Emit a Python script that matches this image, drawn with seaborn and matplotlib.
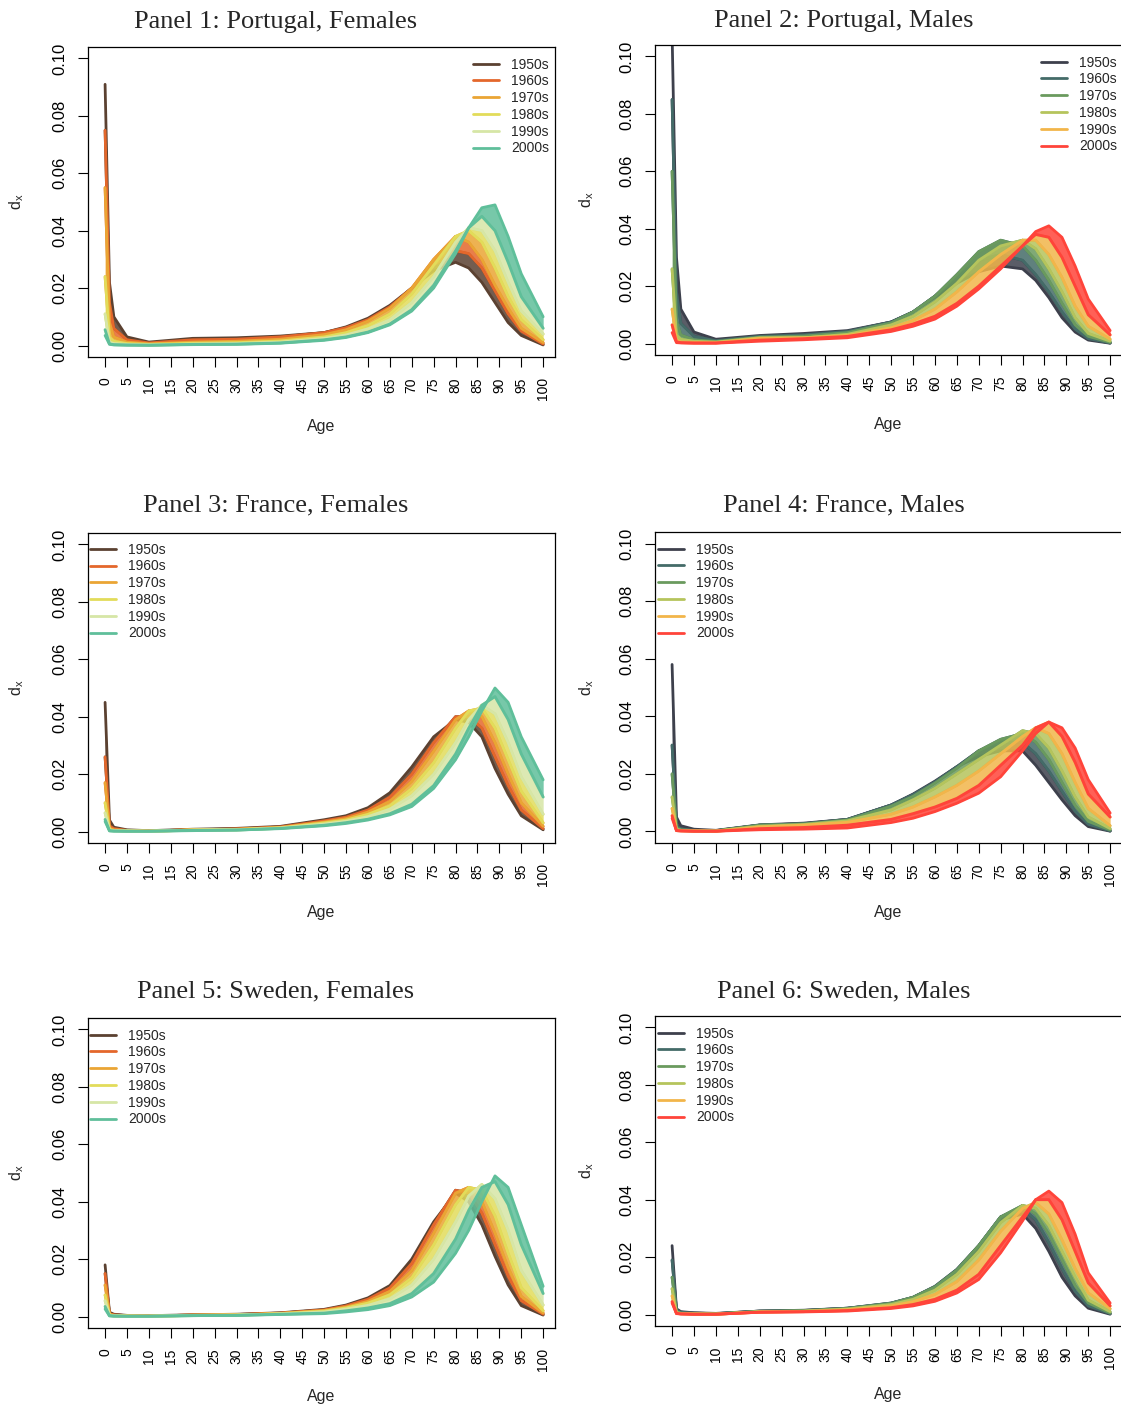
import numpy as np
import pandas as pd
import matplotlib
matplotlib.use("Agg")
import matplotlib.pyplot as plt
import seaborn as sns
from matplotlib.lines import Line2D

# ---------------- data ----------------
ages = [0, 1, 2, 5, 10, 20, 30, 40, 50, 55, 60, 65, 70, 75, 80, 83, 86, 89, 92, 95, 100]
boundary_years = [1950, 1960, 1970, 1980, 1990, 2000, 2009]
decades = ["1950s", "1960s", "1970s", "1980s", "1990s", "2000s"]

female_colors = ["#5b4131", "#e4672b", "#eaa534", "#e2dc5a", "#d6e6a6", "#5fbf9a"]
male_colors = ["#3d404c", "#446b68", "#6a9a5e", "#b5c45c", "#f2b54a", "#ff443a"]

portugal_f = [
    [0.091, 0.022, 0.010, 0.003, 0.0012, 0.0025, 0.0027, 0.0033, 0.0045, 0.0065, 0.0095, 0.014, 0.020, 0.026, 0.029, 0.027, 0.022, 0.015, 0.008, 0.0035, 0.0002],
    [0.075, 0.015, 0.006, 0.002, 0.0009, 0.0020, 0.0022, 0.0030, 0.0045, 0.0062, 0.0090, 0.0135, 0.020, 0.028, 0.033, 0.032, 0.027, 0.019, 0.011, 0.005, 0.0005],
    [0.055, 0.008, 0.003, 0.0012, 0.0006, 0.0012, 0.0015, 0.0022, 0.0038, 0.0055, 0.0085, 0.013, 0.020, 0.030, 0.038, 0.036, 0.030, 0.021, 0.013, 0.006, 0.001],
    [0.024, 0.003, 0.0015, 0.0007, 0.0004, 0.0008, 0.0010, 0.0016, 0.0030, 0.0045, 0.0070, 0.011, 0.018, 0.028, 0.038, 0.040, 0.036, 0.027, 0.017, 0.009, 0.002],
    [0.011, 0.0012, 0.0007, 0.0004, 0.0002, 0.0005, 0.0007, 0.0012, 0.0025, 0.0037, 0.0058, 0.009, 0.015, 0.024, 0.036, 0.041, 0.040, 0.033, 0.022, 0.012, 0.004],
    [0.0055, 0.0006, 0.0003, 0.0002, 0.0001, 0.0004, 0.0005, 0.0009, 0.0020, 0.0030, 0.0047, 0.0075, 0.0125, 0.021, 0.033, 0.041, 0.045, 0.040, 0.029, 0.017, 0.006],
    [0.0035, 0.0004, 0.0002, 0.0001, 0.0001, 0.0003, 0.0004, 0.0008, 0.0018, 0.0028, 0.0045, 0.0072, 0.012, 0.020, 0.032, 0.041, 0.048, 0.049, 0.038, 0.025, 0.010],
]

portugal_m = [
    [0.108, 0.030, 0.012, 0.004, 0.0015, 0.0028, 0.0035, 0.0045, 0.0075, 0.011, 0.016, 0.021, 0.025, 0.027, 0.026, 0.022, 0.016, 0.009, 0.004, 0.0012, 0.0001],
    [0.085, 0.018, 0.007, 0.0025, 0.0010, 0.0025, 0.0030, 0.0042, 0.0075, 0.011, 0.0165, 0.023, 0.029, 0.031, 0.029, 0.024, 0.018, 0.011, 0.005, 0.0017, 0.0002],
    [0.060, 0.008, 0.003, 0.0013, 0.0007, 0.0022, 0.0026, 0.0038, 0.0072, 0.011, 0.0165, 0.024, 0.032, 0.036, 0.034, 0.029, 0.022, 0.014, 0.0065, 0.0025, 0.0004],
    [0.026, 0.003, 0.0015, 0.0008, 0.0005, 0.0020, 0.0020, 0.0032, 0.0065, 0.0095, 0.0145, 0.021, 0.029, 0.034, 0.036, 0.033, 0.026, 0.018, 0.009, 0.0035, 0.0008],
    [0.012, 0.0012, 0.0006, 0.0004, 0.0003, 0.0018, 0.0020, 0.0028, 0.0055, 0.0080, 0.012, 0.018, 0.025, 0.031, 0.036, 0.036, 0.031, 0.023, 0.013, 0.006, 0.0015],
    [0.0065, 0.0006, 0.0003, 0.0002, 0.0002, 0.0012, 0.0017, 0.0025, 0.0048, 0.0068, 0.0095, 0.014, 0.020, 0.027, 0.034, 0.038, 0.037, 0.030, 0.020, 0.010, 0.003],
    [0.0038, 0.0003, 0.0002, 0.0001, 0.0001, 0.0008, 0.0013, 0.0020, 0.0042, 0.0060, 0.0085, 0.013, 0.019, 0.026, 0.034, 0.039, 0.041, 0.037, 0.027, 0.0155, 0.0045],
]

france_f = [
    [0.045, 0.004, 0.0015, 0.0006, 0.0003, 0.0008, 0.0011, 0.0018, 0.0041, 0.0055, 0.0083, 0.0135, 0.0225, 0.033, 0.039, 0.038, 0.033, 0.022, 0.013, 0.0055, 0.0006],
    [0.026, 0.002, 0.0010, 0.0004, 0.0002, 0.0006, 0.0009, 0.0016, 0.0037, 0.0050, 0.0075, 0.012, 0.020, 0.031, 0.040, 0.040, 0.036, 0.026, 0.016, 0.0075, 0.001],
    [0.017, 0.0012, 0.0006, 0.0003, 0.0002, 0.0006, 0.0008, 0.0014, 0.0033, 0.0045, 0.0068, 0.0105, 0.0175, 0.028, 0.039, 0.042, 0.040, 0.031, 0.020, 0.010, 0.0018],
    [0.010, 0.0007, 0.0004, 0.0002, 0.0001, 0.0005, 0.0007, 0.0013, 0.0030, 0.0040, 0.0060, 0.009, 0.015, 0.024, 0.036, 0.042, 0.043, 0.036, 0.025, 0.014, 0.003],
    [0.0065, 0.0005, 0.0003, 0.0002, 0.0001, 0.0005, 0.0006, 0.0012, 0.0026, 0.0036, 0.0052, 0.0078, 0.0125, 0.020, 0.031, 0.039, 0.044, 0.041, 0.031, 0.019, 0.006],
    [0.0042, 0.0003, 0.0002, 0.0001, 0.0001, 0.0004, 0.0005, 0.0011, 0.0022, 0.0031, 0.0043, 0.0062, 0.0095, 0.016, 0.027, 0.036, 0.044, 0.047, 0.039, 0.027, 0.012],
    [0.0035, 0.0002, 0.0001, 0.0001, 0.0001, 0.0003, 0.0005, 0.0010, 0.0020, 0.0028, 0.0040, 0.0058, 0.0087, 0.015, 0.025, 0.033, 0.042, 0.050, 0.045, 0.033, 0.018],
]

france_m = [
    [0.058, 0.005, 0.002, 0.0008, 0.0004, 0.0023, 0.0029, 0.0042, 0.0092, 0.013, 0.0175, 0.0225, 0.026, 0.028, 0.028, 0.023, 0.017, 0.011, 0.0055, 0.0017, 0.0001],
    [0.030, 0.002, 0.0009, 0.0004, 0.0003, 0.0022, 0.0027, 0.0042, 0.0092, 0.0128, 0.0172, 0.0225, 0.028, 0.031, 0.031, 0.027, 0.021, 0.014, 0.007, 0.0025, 0.0002],
    [0.020, 0.0012, 0.0006, 0.0003, 0.0002, 0.0022, 0.0026, 0.0040, 0.0088, 0.0122, 0.0168, 0.022, 0.028, 0.032, 0.034, 0.031, 0.025, 0.017, 0.009, 0.0035, 0.0005],
    [0.012, 0.0008, 0.0004, 0.0002, 0.0002, 0.0018, 0.0024, 0.0037, 0.0075, 0.011, 0.015, 0.020, 0.025, 0.030, 0.035, 0.034, 0.029, 0.021, 0.012, 0.005, 0.001],
    [0.008, 0.0005, 0.0003, 0.0002, 0.0001, 0.0016, 0.0022, 0.0032, 0.0060, 0.0085, 0.012, 0.016, 0.021, 0.027, 0.033, 0.036, 0.034, 0.027, 0.017, 0.008, 0.002],
    [0.0055, 0.0003, 0.0002, 0.0001, 0.0001, 0.0010, 0.0014, 0.0022, 0.0042, 0.0062, 0.0085, 0.0115, 0.016, 0.023, 0.030, 0.036, 0.038, 0.033, 0.024, 0.013, 0.005],
    [0.0046, 0.0003, 0.0002, 0.0001, 0.0001, 0.0006, 0.0008, 0.0012, 0.0031, 0.0046, 0.0069, 0.0098, 0.0133, 0.019, 0.028, 0.034, 0.038, 0.036, 0.029, 0.018, 0.0064],
]

sweden_f = [
    [0.018, 0.0015, 0.0008, 0.0004, 0.0003, 0.0006, 0.0008, 0.0013, 0.0025, 0.0040, 0.0065, 0.0108, 0.020, 0.033, 0.043, 0.040, 0.032, 0.021, 0.011, 0.0038, 0.0005],
    [0.015, 0.0010, 0.0006, 0.0003, 0.0002, 0.0005, 0.0007, 0.0012, 0.0023, 0.0037, 0.0060, 0.010, 0.0185, 0.032, 0.044, 0.043, 0.036, 0.025, 0.014, 0.0055, 0.0008],
    [0.011, 0.0008, 0.0004, 0.0002, 0.0002, 0.0005, 0.0006, 0.0011, 0.0021, 0.0033, 0.0053, 0.0088, 0.016, 0.029, 0.043, 0.045, 0.040, 0.029, 0.017, 0.007, 0.0012],
    [0.0075, 0.0006, 0.0003, 0.0002, 0.0001, 0.0004, 0.0005, 0.0010, 0.0019, 0.0030, 0.0047, 0.0076, 0.0135, 0.025, 0.039, 0.045, 0.044, 0.035, 0.022, 0.010, 0.002],
    [0.0055, 0.0004, 0.0002, 0.0001, 0.0001, 0.0004, 0.0005, 0.0009, 0.0016, 0.0026, 0.0039, 0.0062, 0.011, 0.020, 0.033, 0.042, 0.046, 0.041, 0.030, 0.016, 0.004],
    [0.0035, 0.0003, 0.0002, 0.0001, 0.0001, 0.0003, 0.0004, 0.0008, 0.0012, 0.0020, 0.0030, 0.0045, 0.008, 0.015, 0.027, 0.037, 0.045, 0.047, 0.039, 0.025, 0.008],
    [0.0026, 0.0002, 0.0001, 0.0001, 0.0001, 0.0003, 0.0004, 0.0007, 0.0010, 0.0016, 0.0024, 0.0038, 0.0068, 0.012, 0.022, 0.030, 0.040, 0.049, 0.045, 0.032, 0.0105],
]

sweden_m = [
    [0.024, 0.002, 0.0010, 0.0006, 0.0004, 0.0012, 0.0015, 0.0022, 0.0037, 0.0057, 0.0095, 0.015, 0.023, 0.033, 0.035, 0.030, 0.022, 0.013, 0.0065, 0.0022, 0.0001],
    [0.019, 0.0015, 0.0008, 0.0005, 0.0003, 0.0012, 0.0014, 0.0022, 0.0040, 0.0060, 0.0098, 0.0157, 0.024, 0.034, 0.037, 0.033, 0.025, 0.016, 0.008, 0.003, 0.0003],
    [0.013, 0.0010, 0.0005, 0.0003, 0.0002, 0.0011, 0.0013, 0.0021, 0.0039, 0.0060, 0.0096, 0.0155, 0.024, 0.034, 0.038, 0.035, 0.028, 0.019, 0.010, 0.004, 0.0005],
    [0.009, 0.0007, 0.0004, 0.0002, 0.0002, 0.0010, 0.0012, 0.0019, 0.0035, 0.0053, 0.0085, 0.014, 0.022, 0.032, 0.038, 0.037, 0.031, 0.022, 0.013, 0.005, 0.001],
    [0.0065, 0.0005, 0.0003, 0.0002, 0.0001, 0.0009, 0.0011, 0.0017, 0.0030, 0.0045, 0.0070, 0.0115, 0.019, 0.029, 0.037, 0.039, 0.035, 0.026, 0.016, 0.0075, 0.002],
    [0.0045, 0.0004, 0.0002, 0.0001, 0.0001, 0.0008, 0.0010, 0.0014, 0.0024, 0.0035, 0.0053, 0.0085, 0.014, 0.024, 0.034, 0.040, 0.040, 0.033, 0.022, 0.011, 0.003],
    [0.0040, 0.0003, 0.0002, 0.0001, 0.0001, 0.0008, 0.0009, 0.0012, 0.0021, 0.0030, 0.0046, 0.0075, 0.0122, 0.0215, 0.0326, 0.040, 0.043, 0.039, 0.028, 0.0145, 0.004],
]

titles = ["Panel 1: Portugal, Females", "Panel 2: Portugal, Males",
          "Panel 3: France, Females", "Panel 4: France, Males",
          "Panel 5: Sweden, Females", "Panel 6: Sweden, Males"]
x_ticks = list(range(0, 101, 5))
y_ticks = [0.00, 0.02, 0.04, 0.06, 0.08, 0.10]

# ---------------- styling / layout ----------------
sns.set_style("white")
plt.rcParams["font.family"] = ["Liberation Sans", "DejaVu Sans"]

W, H = 1121, 1412
fig = plt.figure(figsize=(W / 100, H / 100), dpi=100)

# (left, right, top, bottom) of each plot box in pixels
boxes = [(88, 555, 47, 357), (655, 1122, 45, 355),
         (88, 555, 533, 843), (655, 1122, 532, 843),
         (88, 555, 1018, 1328), (655, 1122, 1016, 1326)]
title_pos = [(276, 22), (844, 21), (276, 505), (844, 505), (276, 991), (844, 991)]
xlabel_y = [427, 425, 912, 912, 1397, 1395]
panels = [portugal_f, portugal_m, france_f, france_m, sweden_f, sweden_m]
palettes = [female_colors, male_colors] * 3
legend_anchor = [("upper right", (0.987, 0.966)), ("upper right", (0.989, 0.966)),
                 ("upper left", (0.004, 0.969)), ("upper left", (0.006, 0.966)),
                 ("upper left", (0.004, 0.966)), ("upper left", (0.006, 0.966))]

for i, curves in enumerate(panels):
    l, r, t, b = boxes[i]
    ax = fig.add_axes([l / W, 1 - b / H, (r - l) / W, (b - t) / H])
    cols = palettes[i]
    for k in range(6):
        lo = np.array(curves[k])
        hi = np.array(curves[k + 1])
        ax.fill_between(ages, lo, hi, color=cols[k], lw=0, alpha=0.85, zorder=2 + k)
        for arr in (lo, hi):
            sns.lineplot(x=ages, y=arr, color=cols[k], lw=2.0, ax=ax, zorder=2 + k,
                         estimator=None, sort=False)
    ax.set_xlim(-3.9, 102.7)
    ax.set_ylim(-0.004, 0.104)
    ax.set_xticks(x_ticks)
    ax.set_xticklabels([str(v) for v in x_ticks], rotation=90, fontsize=10)
    ax.set_yticks(y_ticks)
    ax.set_yticklabels([f"{v:.2f}" for v in y_ticks], rotation=90, va="center", fontsize=12)
    ax.tick_params(direction="out", length=7.5, width=0.8, pad=7, colors="black",
                   bottom=True, left=True)
    for s in ax.spines.values():
        s.set_linewidth(0.9)
        s.set_color("black")
    ax.set_xlabel("Age", fontsize=11.5)
    ax.xaxis.set_label_coords(0.5, -(xlabel_y[i] - b) / (b - t))
    ax.xaxis.label.set_va("center")
    ax.set_ylabel(r"$\mathregular{d_x}$", fontsize=11.5)
    ax.yaxis.set_label_coords(-(l - (17 if l < 500 else 587)) / (r - l), 0.5)
    ax.yaxis.label.set_va("center")

    handles = [Line2D([0], [0], color=c, lw=2) for c in cols]
    loc, anchor = legend_anchor[i]
    ax.legend(handles, decades, loc=loc, bbox_to_anchor=anchor, frameon=False,
              fontsize=10, handlelength=1.9, handletextpad=0.85, labelspacing=0.2,
              borderpad=0, borderaxespad=0)

    tx, ty = title_pos[i]
    fig.text(tx / W, 1 - ty / H, titles[i], ha="center", va="center",
             fontsize=19, family="Liberation Serif")

fig.savefig("out.png", dpi=100)
